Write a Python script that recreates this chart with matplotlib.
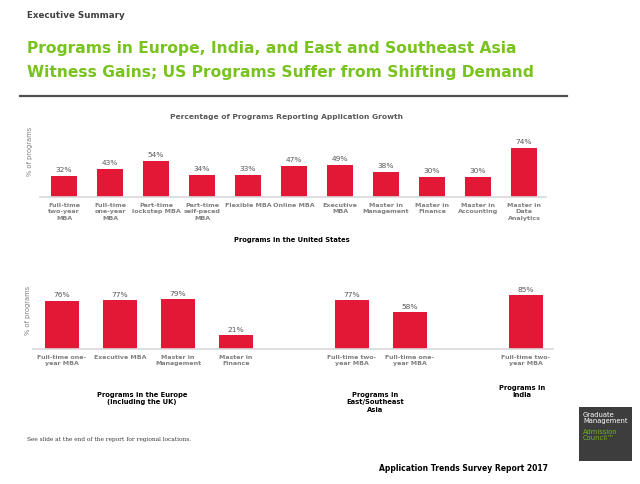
import matplotlib
matplotlib.use("Agg")
import matplotlib.pyplot as plt
from matplotlib.patches import Rectangle

W, H = 640, 485

us_labels = ["Full-time\ntwo-year\nMBA", "Full-time\none-year\nMBA", "Part-time\nlockstep MBA",
             "Part-time\nself-paced\nMBA", "Flexible MBA", "Online MBA", "Executive\nMBA",
             "Master in\nManagement", "Master in\nFinance", "Master in\nAccounting",
             "Master in\nData\nAnalytics"]
us_values = [32, 43, 54, 34, 33, 47, 49, 38, 30, 30, 74]

intl_labels = ["Full-time one-\nyear MBA", "Executive MBA", "Master in\nManagement", "Master in\nFinance",
               "Full-time two-\nyear MBA", "Full-time one-\nyear MBA", "Full-time two-\nyear MBA"]
intl_values = [76, 77, 79, 21, 77, 58, 85]
intl_pos = [0, 1, 2, 3, 5, 6, 8]
region_labels = ["Programs in the Europe\n(including the UK)", "Programs in\nEast/Southeast\nAsia",
                 "Programs in\nIndia"]

RED = "#e31837"
GREEN = "#78c31e"
GRAY = "#7f7f7f"
DARK = "#595959"


def fx(x):
    return x / W


def fy(y):
    return 1 - y / H


fig = plt.figure(figsize=(6.4, 4.85), dpi=100)

# header
fig.text(fx(27), fy(15), "Executive Summary", fontsize=6.3, fontweight="bold", color="#404040",
         va="center", ha="left")
fig.text(fx(27), fy(48), "Programs in Europe, India, and East and Southeast Asia", fontsize=11.2,
         fontweight="bold", color=GREEN, va="center", ha="left")
fig.text(fx(27), fy(72), "Witness Gains; US Programs Suffer from Shifting Demand", fontsize=11.2,
         fontweight="bold", color=GREEN, va="center", ha="left")
fig.add_artist(plt.Line2D([fx(20), fx(567)], [fy(96.5), fy(96.5)], color="#505050", lw=1.6))

# top chart: US programs
ax1 = fig.add_axes([fx(40), fy(198), fx(506), 66 / H])
x1 = list(range(len(us_values)))
bars = ax1.bar(x1, us_values, width=0.565, color=RED)
for b, v in zip(bars, us_values):
    ax1.text(b.get_x() + b.get_width() / 2, v + 6, f"{v}%", ha="center", va="bottom",
             fontsize=5.4, color=DARK)
ax1.set_xlim(-0.522, 10.478)
ax1.set_ylim(0, 100)
ax1.set_xticks(x1)
ax1.set_xticklabels(us_labels, fontsize=4.6, fontweight="bold", color=GRAY, linespacing=1.3)
ax1.tick_params(axis="x", length=0, pad=3.8)
ax1.set_yticks([])
for s in ["top", "right", "left"]:
    ax1.spines[s].set_visible(False)
ax1.spines["bottom"].set_color("#d9d9d9")
ax1.spines["bottom"].set_linewidth(1.2)
ax1.patch.set_alpha(0)

fig.text(fx(287), fy(117), "Percentage of Programs Reporting Application Growth", fontsize=5.4,
         fontweight="bold", color=DARK, ha="center", va="center")
fig.text(fx(30), fy(151), "% of programs", fontsize=4.8, color=GRAY, rotation=90,
         ha="center", va="center")
fig.text(fx(292), fy(240), "Programs in the United States", fontsize=4.9, fontweight="bold",
         color="black", ha="center", va="center")

# bottom chart: other regions
ax2 = fig.add_axes([fx(33), fy(349.5), fx(520), 63 / H])
bars = ax2.bar(intl_pos, intl_values, width=0.57, color=RED)
for b, v in zip(bars, intl_values):
    ax2.text(b.get_x() + b.get_width() / 2, v + 5, f"{v}%", ha="center", va="bottom",
             fontsize=5.4, color=DARK)
ax2.set_xlim(-0.5, 8.466)
ax2.set_ylim(0, 100)
ax2.set_xticks(intl_pos)
ax2.set_xticklabels(intl_labels, fontsize=4.5, fontweight="bold", color=GRAY, linespacing=1.3)
ax2.tick_params(axis="x", length=0, pad=3.8)
ax2.set_yticks([])
for s in ["top", "right", "left"]:
    ax2.spines[s].set_visible(False)
ax2.spines["bottom"].set_color("#d9d9d9")
ax2.spines["bottom"].set_linewidth(1.2)
ax2.patch.set_alpha(0)

fig.text(fx(28), fy(310), "% of programs", fontsize=4.8, color=GRAY, rotation=90,
         ha="center", va="center")
for (x, y), lab in zip([(142, 392), (375, 392), (522, 385)], region_labels):
    fig.text(fx(x), fy(y), lab, fontsize=4.9, fontweight="bold", color="black", ha="center",
             va="top", linespacing=1.3)

# footer
fig.text(fx(27), fy(440), "See slide at the end of the report for regional locations.", fontsize=4.2,
         family="DejaVu Serif", color="#333333", ha="left", va="center")
fig.text(fx(548), fy(469), "Application Trends Survey Report 2017", fontsize=5.5, fontweight="bold",
         color="black", ha="right", va="center")

fig.add_artist(Rectangle((fx(579), fy(462)), fx(53), 54 / H, transform=fig.transFigure,
                         facecolor="#3d3d3d", edgecolor="none"))
fig.text(fx(583), fy(412), "Graduate\nManagement", fontsize=4.9, color="white", ha="left", va="top",
         linespacing=1.1)
fig.text(fx(583), fy(429), "Admission\nCouncil\u2122", fontsize=4.9, color="#6fb51f", ha="left",
         va="top", linespacing=1.1)

fig.savefig("out.png", dpi=100)
